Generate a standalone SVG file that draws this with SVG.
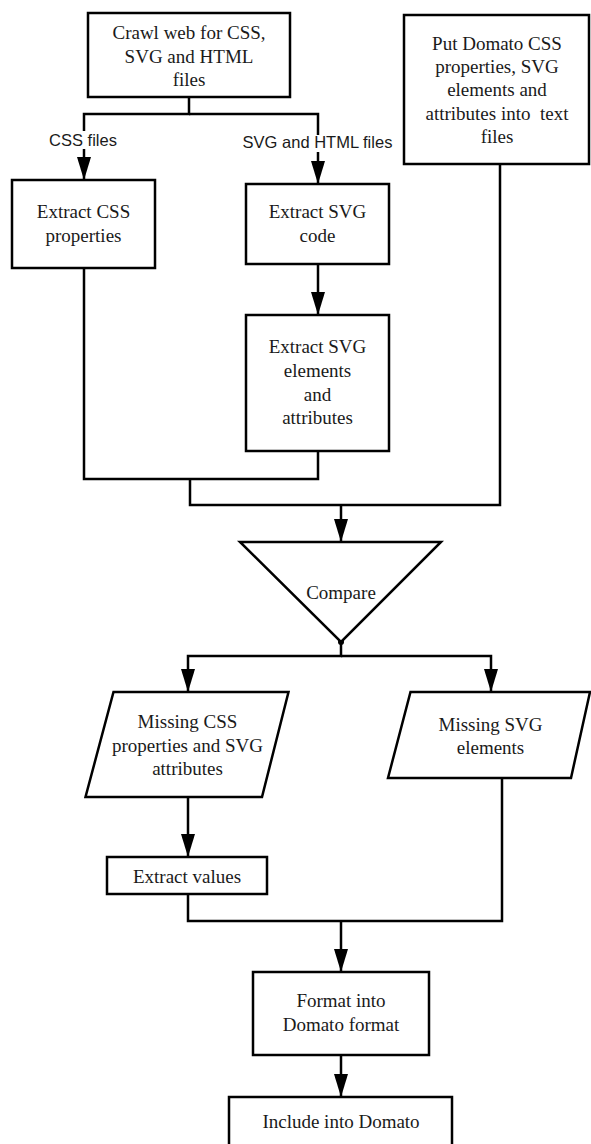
<svg xmlns="http://www.w3.org/2000/svg" width="591" height="1144" viewBox="0 0 591 1144">
<style>
.box{fill:#fff;stroke:#000;stroke-width:2.5}
.t{font-family:"Liberation Serif","Times New Roman",serif;font-size:19px;fill:#1a1a1a;text-anchor:middle}
.l{font-family:"Liberation Sans",Arial,sans-serif;font-size:16.5px;fill:#1a1a1a;text-anchor:middle}
.c{fill:none;stroke:#000;stroke-width:2.5}
</style>
<defs>
<marker id="ah" viewBox="0 0 23 14" refX="23" refY="7" markerWidth="23" markerHeight="14" markerUnits="userSpaceOnUse" orient="auto">
<path d="M0,0 L23,7 L0,14 z" fill="#000"/>
</marker>
</defs>
<rect width="591" height="1144" fill="#fff"/>
<g id="connectors">
<path class="c" d="M189,97 V114 H84 V131"/>
<path class="c" d="M84,149 V180" marker-end="url(#ah)"/>
<path class="c" d="M189,114 H318 V135"/>
<path class="c" d="M318,152 V184" marker-end="url(#ah)"/>
<path class="c" d="M318,264 V315" marker-end="url(#ah)"/>
<path class="c" d="M84,268 V479 H318 V451"/>
<path class="c" d="M190,479 V505 H500 V164"/>
<path class="c" d="M341,505 V542" marker-end="url(#ah)"/>
<path class="c" d="M341,642 V656 H188 V692" marker-end="url(#ah)"/>
<path class="c" d="M341,656 H491 V692" marker-end="url(#ah)"/>
<path class="c" d="M188,797 V857" marker-end="url(#ah)"/>
<path class="c" d="M188,894 V921 H502 V778"/>
<path class="c" d="M341,921 V972" marker-end="url(#ah)"/>
<path class="c" d="M341,1055 V1097" marker-end="url(#ah)"/>
<circle cx="341" cy="642" r="3" fill="#000"/>
<text class="l" x="83" y="145.5">CSS files</text>
<text class="l" x="317.5" y="148">SVG and HTML files</text>
</g>
<g id="crawl">
<rect class="box" x="88" y="13" width="202" height="84"/>
<text class="t" x="189" y="39">Crawl web for CSS,</text>
<text class="t" x="189" y="63">SVG and HTML</text>
<text class="t" x="189" y="86">files</text>
</g>
<g id="put-domato">
<rect class="box" x="404" y="15" width="185" height="149"/>
<text class="t" x="497" y="50">Put Domato CSS</text>
<text class="t" x="497" y="73">properties, SVG</text>
<text class="t" x="497" y="96">elements and</text>
<text class="t" x="497" y="120" xml:space="preserve">attributes into  text</text>
<text class="t" x="497" y="143">files</text>
</g>
<g id="extract-css">
<rect class="box" x="12" y="180" width="143" height="88"/>
<text class="t" x="83.5" y="218">Extract CSS</text>
<text class="t" x="83.5" y="241.5">properties</text>
</g>
<g id="extract-svg-code">
<rect class="box" x="246" y="184" width="143" height="80"/>
<text class="t" x="317.5" y="218">Extract SVG</text>
<text class="t" x="317.5" y="241.5">code</text>
</g>
<g id="extract-svg-elements">
<rect class="box" x="246" y="315" width="143" height="136"/>
<text class="t" x="317.5" y="353">Extract SVG</text>
<text class="t" x="317.5" y="377">elements</text>
<text class="t" x="317.5" y="400.5">and</text>
<text class="t" x="317.5" y="424">attributes</text>
</g>
<g id="compare">
<polygon class="box" points="240,542 441,542 341,642"/>
<text class="t" x="341" y="599">Compare</text>
</g>
<g id="missing-css">
<polygon class="box" points="113.5,692 288.5,692 262,797 85.5,797"/>
<text class="t" x="187.5" y="727.5">Missing CSS</text>
<text class="t" x="187.5" y="751.5">properties and SVG</text>
<text class="t" x="187.5" y="775">attributes</text>
</g>
<g id="missing-svg">
<polygon class="box" points="410.5,692 590,692 571,778 388,778"/>
<text class="t" x="490.5" y="731">Missing SVG</text>
<text class="t" x="490.5" y="754">elements</text>
</g>
<g id="extract-values">
<rect class="box" x="107" y="857" width="160" height="37"/>
<text class="t" x="187" y="883">Extract values</text>
</g>
<g id="format">
<rect class="box" x="253" y="972" width="176" height="83"/>
<text class="t" x="341" y="1007">Format into</text>
<text class="t" x="341" y="1031">Domato format</text>
</g>
<g id="include">
<rect class="box" x="229" y="1097" width="223" height="50"/>
<text class="t" x="341" y="1128">Include into Domato</text>
</g>
</svg>
